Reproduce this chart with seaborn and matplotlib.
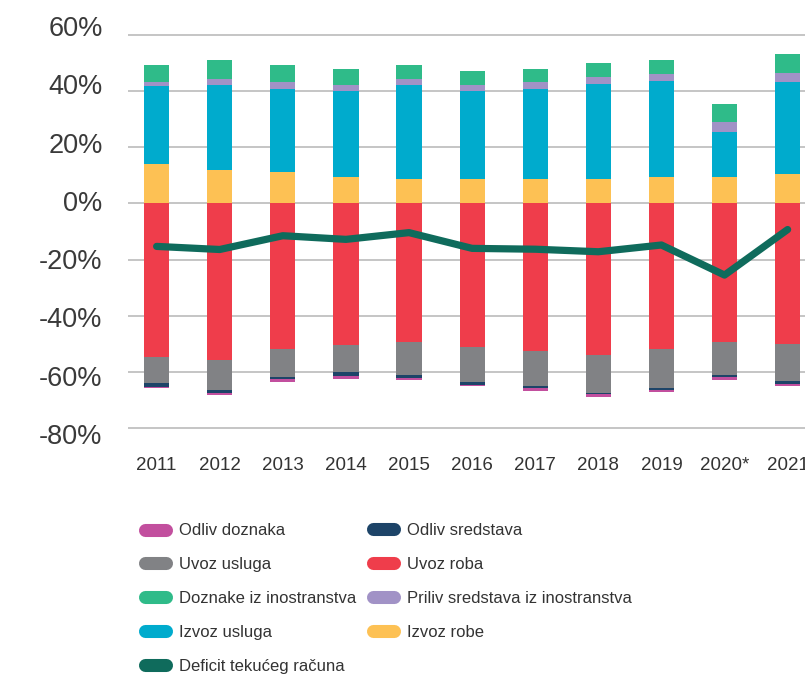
import numpy as np
import matplotlib
matplotlib.use("Agg")
import matplotlib.pyplot as plt
from matplotlib import font_manager
from matplotlib.lines import Line2D
import seaborn as sns

years = ['2011', '2012', '2013', '2014', '2015', '2016', '2017', '2018', '2019', '2020*', '2021']

izvoz_robe = [14.1, 11.8, 11.1, 9.3, 8.6, 8.6, 8.6, 8.6, 9.3, 9.3, 10.4]
izvoz_usluga = [27.7, 30.2, 29.5, 30.6, 33.4, 31.3, 32.0, 33.9, 34.2, 16.0, 32.7]
priliv_sredstava = [1.4, 2.2, 2.5, 2.1, 2.2, 2.1, 2.5, 2.4, 2.5, 3.5, 3.2]
doznake = [5.9, 6.7, 6.0, 5.7, 4.9, 5.0, 4.6, 4.9, 4.9, 6.4, 6.7]

uvoz_roba = [-54.6, -55.7, -51.8, -50.3, -49.3, -51.1, -52.5, -53.9, -51.8, -49.3, -50.0]
uvoz_usluga = [-9.2, -10.6, -9.9, -9.6, -11.7, -12.4, -12.4, -13.5, -13.8, -11.7, -13.1]
odliv_sredstava = [-1.5, -1.1, -0.7, -1.5, -1.1, -1.1, -0.7, -0.4, -0.7, -0.7, -1.1]
odliv_doznaka = [-0.3, -0.7, -1.1, -1.0, -0.7, -0.3, -1.1, -1.0, -0.7, -1.1, -0.7]

deficit = [-15.3, -16.4, -11.5, -12.8, -10.4, -16.0, -16.3, -17.2, -14.8, -25.5, -9.3]

ytick_vals = [-80, -60, -40, -20, 0, 20, 40, 60]
ytick_labels = ['-80%', '-60%', '-40%', '-20%', '0%', '20%', '40%', '60%']

colors = {
    'Odliv doznaka': '#c24f9e',
    'Odliv sredstava': '#1d4468',
    'Uvoz usluga': '#818285',
    'Uvoz roba': '#ef3d4b',
    'Doznake iz inostranstva': '#2fbb89',
    'Priliv sredstava iz inostranstva': '#a192c6',
    'Izvoz usluga': '#00abcd',
    'Izvoz robe': '#fdc154',
    'Deficit tekućeg računa': '#0f6b5c',
}

sns.set_style("white")
available = {f.name for f in font_manager.fontManager.ttflist}
main_font = 'Liberation Sans' if 'Liberation Sans' in available else 'DejaVu Sans'
plt.rcParams['font.family'] = [main_font, 'DejaVu Sans']
leg_font, leg_size = main_font, 12.0

fig = plt.figure(figsize=(8.05, 6.77), dpi=100)
ax = fig.add_axes([0.1593, 0.3632, 0.874, 0.5897])

pos_series = [('Izvoz robe', izvoz_robe), ('Izvoz usluga', izvoz_usluga),
              ('Priliv sredstava iz inostranstva', priliv_sredstava),
              ('Doznake iz inostranstva', doznake)]
neg_series = [('Uvoz roba', uvoz_roba), ('Uvoz usluga', uvoz_usluga),
              ('Odliv sredstava', odliv_sredstava), ('Odliv doznaka', odliv_doznaka)]

for series in (pos_series, neg_series):
    bottom = np.zeros(len(years))
    for name, vals in series:
        sns.barplot(x=years, y=vals, bottom=bottom, color=colors[name], width=0.4,
                    saturation=1, errorbar=None, ax=ax, zorder=2, linewidth=0)
        bottom = bottom + np.array(vals)

sns.lineplot(x=np.arange(len(years)), y=deficit, color=colors['Deficit tekućeg računa'],
             lw=5.2, solid_capstyle='round', solid_joinstyle='round', ax=ax, zorder=3)

ax.set_xlim(-0.45, 10.7)
ax.set_ylim(-81, 61)
ax.set_yticks(ytick_vals)
ax.set_yticklabels([])
ax.set_axisbelow(True)
ax.yaxis.grid(True, color='#b5b5b5', lw=1.1)
ax.xaxis.grid(False)
for s in ax.spines.values():
    s.set_visible(False)
ax.set_xticks(np.arange(len(years)))
ax.set_xticklabels(years)
ax.tick_params(axis='x', length=0, pad=18.5, labelsize=13.5, labelcolor='#333333')
ax.tick_params(axis='y', length=0)
ax.set_xlabel('')
ax.set_ylabel('')

# y-axis labels axis
lab = fig.add_axes([0.1593, 1 - 434 / 677, 0.0001, (434 - 26) / 677])
lab.set_ylim(-80, 60)
lab.set_yticks(ytick_vals)
lab.set_yticklabels(ytick_labels)
lab.set_xticks([])
lab.tick_params(axis='y', length=0, pad=18.5, labelsize=19.5, labelcolor='#3a3a3a')
lab.patch.set_visible(False)
for s in lab.spines.values():
    s.set_visible(False)

def handle(name):
    return Line2D([0], [0], color=colors[name], lw=9.4, solid_capstyle='round')

col1 = ['Odliv doznaka', 'Uvoz usluga', 'Doznake iz inostranstva', 'Izvoz usluga',
        'Deficit tekućeg računa']
col2 = ['Odliv sredstava', 'Uvoz roba', 'Priliv sredstava iz inostranstva', 'Izvoz robe']

common = dict(frameon=False, borderpad=0, handlelength=1.26, handletextpad=0.8,
              labelspacing=1.13, prop={'family': [leg_font, 'DejaVu Sans'], 'size': leg_size},
              labelcolor='#333333', loc='center left')
l1 = fig.legend([handle(n) for n in col1], col1, bbox_to_anchor=(136.5 / 805, 1 - 598.5 / 677),
                **common)
l2 = fig.legend([handle(n) for n in col2], col2, bbox_to_anchor=(364.5 / 805, 1 - 581.5 / 677),
                **common)

fig.savefig('out.png', dpi=100)
